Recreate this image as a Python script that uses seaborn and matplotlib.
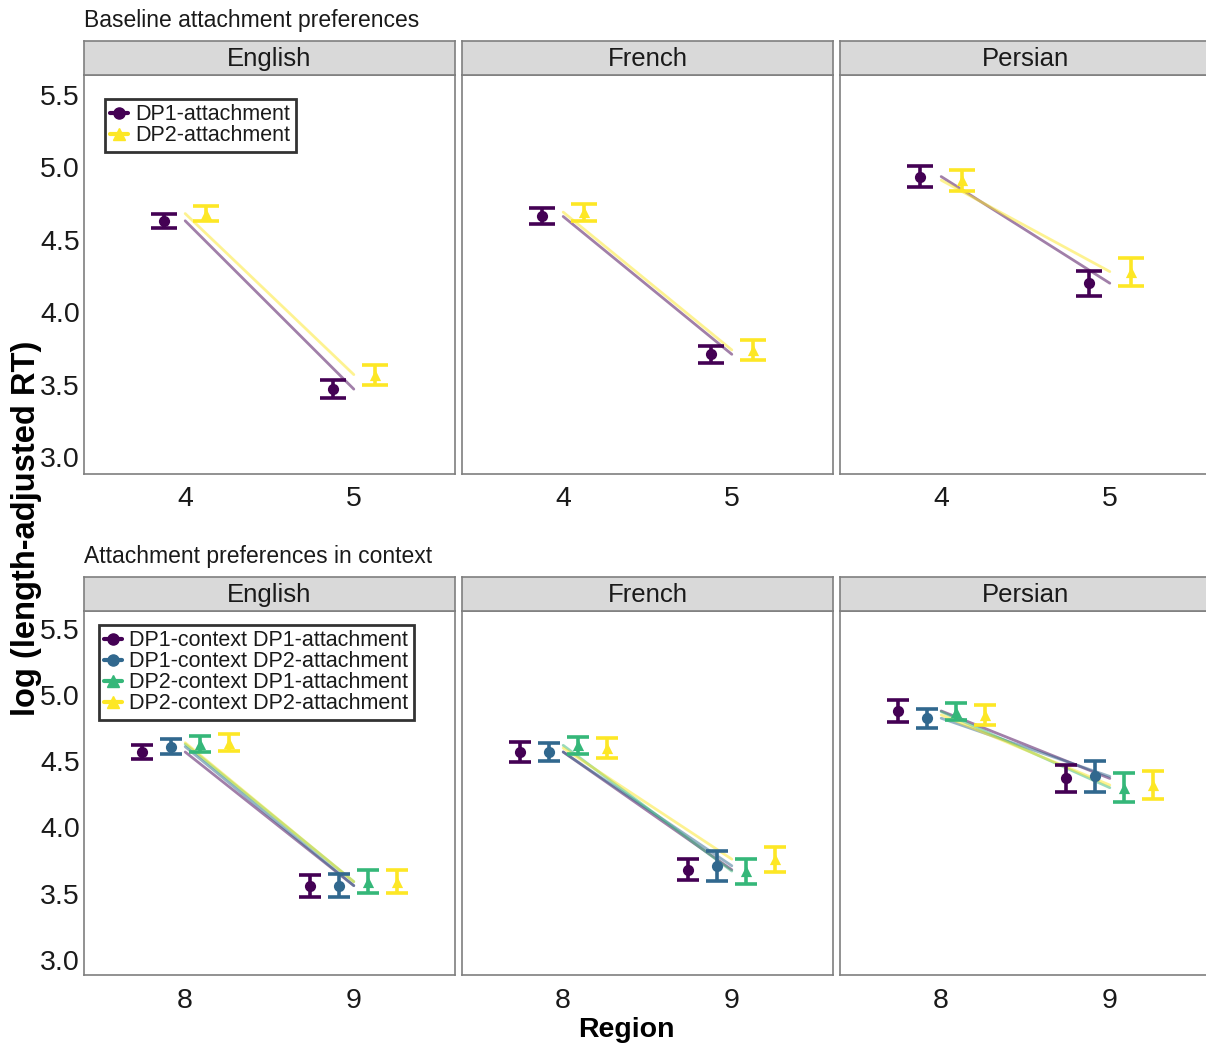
import numpy as np
import pandas as pd
import matplotlib
matplotlib.use("Agg")
import matplotlib.pyplot as plt
from matplotlib.lines import Line2D
import seaborn as sns

sns.set_theme(style="white")
plt.rcParams["font.family"] = ["Liberation Sans", "DejaVu Sans"]

# ---- data ----
languages = ["English", "French", "Persian"]

# baseline: regions 4 and 5
base_conditions = ["DP1-attachment", "DP2-attachment"]
base_regions = [4, 5]
base_mean = {
    "English": {"DP1-attachment": [4.63, 3.47], "DP2-attachment": [4.68, 3.57]},
    "French":  {"DP1-attachment": [4.66, 3.71], "DP2-attachment": [4.69, 3.74]},
    "Persian": {"DP1-attachment": [4.935, 4.20], "DP2-attachment": [4.91, 4.28]},
}
base_se = {
    "English": {"DP1-attachment": [0.05, 0.062], "DP2-attachment": [0.05, 0.069]},
    "French":  {"DP1-attachment": [0.055, 0.058], "DP2-attachment": [0.058, 0.072]},
    "Persian": {"DP1-attachment": [0.072, 0.086], "DP2-attachment": [0.072, 0.097]},
}

# context: regions 8 and 9
ctx_conditions = ["DP1-context DP1-attachment", "DP1-context DP2-attachment",
                  "DP2-context DP1-attachment", "DP2-context DP2-attachment"]
ctx_regions = [8, 9]
ctx_mean = {
    "English": [[4.57, 3.56], [4.61, 3.56], [4.63, 3.59], [4.64, 3.59]],
    "French":  [[4.57, 3.68], [4.57, 3.71], [4.62, 3.67], [4.60, 3.76]],
    "Persian": [[4.88, 4.37], [4.825, 4.385], [4.875, 4.30], [4.85, 4.32]],
}
ctx_se = {
    "English": [[0.05, 0.083], [0.058, 0.085], [0.062, 0.085], [0.062, 0.085]],
    "French":  [[0.078, 0.078], [0.07, 0.113], [0.065, 0.094], [0.072, 0.094]],
    "Persian": [[0.08, 0.10], [0.072, 0.12], [0.065, 0.11], [0.075, 0.105]],
}

base_colors = ["#440154", "#FDE725"]
ctx_colors = ["#440154", "#31688E", "#35B779", "#FDE725"]
base_markers = ["o", "^"]
ctx_markers = ["o", "o", "^", "^"]

W, H = 1206, 1046


def make_frame(conditions, regions, means, ses):
    rows = []
    for lang in languages:
        for ci, cond in enumerate(conditions):
            m = means[lang][cond] if isinstance(means[lang], dict) else means[lang][ci]
            s = ses[lang][cond] if isinstance(ses[lang], dict) else ses[lang][ci]
            for r, mv, sv in zip(regions, m, s):
                rows.append(dict(lang=lang, cond=cond, ci=ci, region=r, rt=mv, se=sv))
    return pd.DataFrame(rows)


def px_axes(fig, x0, y0, x1, y1):
    return fig.add_axes([x0 / W, 1 - y1 / H, (x1 - x0) / W, (y1 - y0) / H])


def draw_row(fig, df, conditions, colors, markers, dodge, regions, top, title,
             capsize, legend_loc):
    strip_top, panel_top, panel_bot = top
    fig.text(84 / W, 1 - (strip_top - 21) / H, title, fontsize=16.5,
             ha="left", va="center", color="#1a1a1a")
    xs = [(84, 455), (462, 833), (840, 1211)]
    n = len(conditions)
    offsets = (np.arange(n) - (n - 1) / 2) * dodge
    for li, lang in enumerate(languages):
        x0, x1 = xs[li]
        ax = px_axes(fig, x0, panel_top, x1, panel_bot)
        sub = df[df["lang"] == lang].copy()
        sub["xd"] = sub["region"] + offsets[sub["ci"].values]
        palette = dict(zip(conditions, colors))

        # fitted lines between regions
        sns.lineplot(data=sub, x="region", y="rt", hue="cond", palette=palette,
                     hue_order=conditions, alpha=0.5, lw=2, legend=False, ax=ax,
                     zorder=1)
        for ci, cond in enumerate(conditions):
            c = sub[sub["cond"] == cond]
            ax.errorbar(c["xd"], c["rt"], yerr=c["se"], fmt="none",
                        ecolor=colors[ci], elinewidth=2.6, capsize=capsize,
                        capthick=2.6, zorder=2)
            sns.scatterplot(x=c["xd"], y=c["rt"], color=colors[ci],
                            marker=markers[ci], s=65, linewidth=0, ax=ax,
                            zorder=3)

        ax.set_xlim(regions[0] - 0.6, regions[1] + 0.6)
        ax.set_ylim(2.885, 5.635)
        ax.set_xticks(regions)
        ax.set_yticks([3.0, 3.5, 4.0, 4.5, 5.0, 5.5])
        ax.set_xlabel("")
        ax.set_ylabel("")
        ax.tick_params(length=0, labelsize=20.5, labelcolor="#1a1a1a", pad=3)
        ax.tick_params(axis="x", pad=9)
        if li > 0:
            ax.set_yticklabels([])
        else:
            ax.set_yticklabels(["3.0", "3.5", "4.0", "4.5", "5.0", "5.5"])
        for sp in ax.spines.values():
            sp.set_color("#7f7f7f")
            sp.set_linewidth(1.2)

        # strip
        sax = px_axes(fig, x0, strip_top, x1, panel_top)
        sax.set_facecolor("#d9d9d9")
        sax.set_xticks([])
        sax.set_yticks([])
        for sp in sax.spines.values():
            sp.set_color("#7f7f7f")
            sp.set_linewidth(1.2)
        sax.text(0.5, 0.48, lang, transform=sax.transAxes, ha="center",
                 va="center", fontsize=18.5, color="#1a1a1a")

        if li == 0:
            handles = [Line2D([0], [0], color=colors[i], marker=markers[i],
                              markersize=8, lw=3) for i in range(n)]
            leg = ax.legend(handles, conditions, loc="upper left",
                            bbox_to_anchor=legend_loc, fontsize=15.5,
                            handlelength=0.8, handletextpad=0.35,
                            labelspacing=0.0, borderpad=0.25, frameon=True,
                            fancybox=False, borderaxespad=0)
            leg.get_frame().set_edgecolor("black")
            leg.get_frame().set_linewidth(2)
            for t in leg.get_texts():
                t.set_color("#1a1a1a")


fig = plt.figure(figsize=(W / 100, H / 100), dpi=100)

base_df = make_frame(base_conditions, base_regions, base_mean, base_se)
ctx_df = make_frame(ctx_conditions, ctx_regions, ctx_mean, ctx_se)

draw_row(fig, base_df, base_conditions, base_colors, base_markers, 0.25,
         base_regions, (41, 75, 474), "Baseline attachment preferences", 9.5,
         (21 / 371, 1 - 24 / 399))
draw_row(fig, ctx_df, ctx_conditions, ctx_colors, ctx_markers, 0.172,
         ctx_regions, (577, 611, 975), "Attachment preferences in context", 8,
         (15 / 371, 1 - 14 / 364))

fig.text(27 / W, 1 - 528 / H, "log (length-adjusted RT)", rotation=90,
         ha="center", va="center", fontsize=23.5, fontweight="bold", color="black")
fig.text(626 / W, 1 - 1030 / H, "Region", ha="center", va="center",
         fontsize=20.5, fontweight="bold", color="black")

fig.savefig("out.png", dpi=100)
